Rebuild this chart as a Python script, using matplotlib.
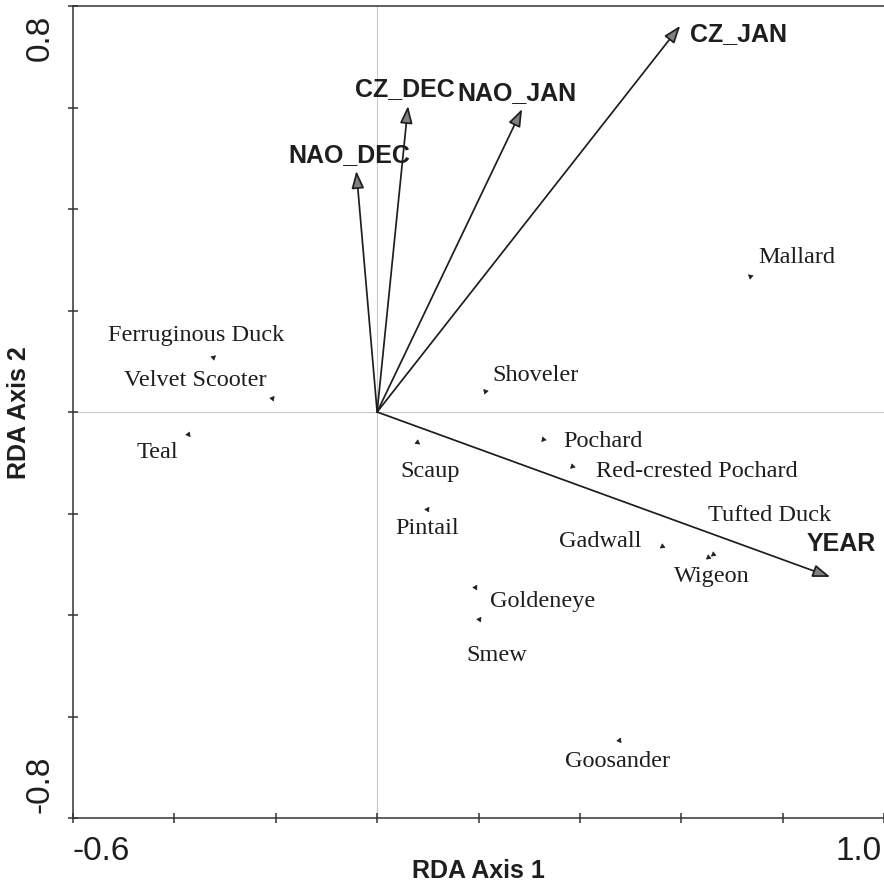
import numpy as np
import matplotlib
matplotlib.use('Agg')
import matplotlib.pyplot as plt
from matplotlib.transforms import ScaledTranslation

# environmental variables (arrow tips)
env_names = ['NAO_DEC', 'CZ_DEC', 'NAO_JAN', 'CZ_JAN', 'YEAR']
env_x = [-0.041, 0.061, 0.286, 0.598, 0.894]
env_y = [0.475, 0.603, 0.597, 0.761, -0.325]

# species scores
sp_names = ['Mallard', 'Ferruginous Duck', 'Velvet Scooter', 'Teal', 'Shoveler',
            'Pochard', 'Red-crested Pochard', 'Scaup', 'Pintail', 'Tufted Duck',
            'Gadwall', 'Wigeon', 'Goldeneye', 'Smew', 'Goosander']
sp_x = [0.736, -0.323, -0.207, -0.373, 0.213, 0.327, 0.385, 0.079, 0.099,
        0.663, 0.562, 0.653, 0.193, 0.201, 0.477]
sp_y = [0.268, 0.108, 0.028, -0.043, 0.041, -0.053, -0.106, -0.059, -0.191,
        -0.280, -0.264, -0.286, -0.345, -0.408, -0.646]

# label offsets in pixels
env_off = {'NAO_DEC': (-7, 17), 'CZ_DEC': (-3, 18), 'NAO_JAN': (-5, 17),
           'CZ_JAN': (58, -7), 'YEAR': (11, 34)}
sp_off = {'Mallard': (47, 19), 'Ferruginous Duck': (-17, 23),
          'Velvet Scooter': (-77, 18), 'Teal': (-31, -18), 'Shoveler': (50, 17),
          'Pochard': (60, -2), 'Red-crested Pochard': (125, -5),
          'Scaup': (13, -29), 'Pintail': (0, -19), 'Tufted Duck': (56, 40),
          'Gadwall': (-62, 5), 'Wigeon': (4, -18), 'Goldeneye': (68, -13),
          'Smew': (18, -35), 'Goosander': (-1, -21)}

ink = '#1e1e1e'
sans = ['Liberation Sans', 'DejaVu Sans']
serif = ['Liberation Serif', 'DejaVu Serif']

fig = plt.figure(figsize=(8.84, 8.87), dpi=100)
ax = fig.add_axes([73 / 884, 1 - 819 / 887, 1 - 73 / 884, (819 - 7) / 887])
ax.set_xlim(-0.6, 1.0)
ax.set_ylim(-0.8, 0.8)

ax.axhline(0, color='#c8c8c8', lw=0.8, zorder=0)
ax.axvline(0, color='#c8c8c8', lw=0.8, zorder=0)

for n, x, y in zip(env_names, env_x, env_y):
    ax.annotate('', xy=(x, y), xytext=(0, 0),
                arrowprops=dict(arrowstyle='-|>,head_length=1.05,head_width=0.38',
                                mutation_scale=10, lw=1.25, fc='#808080', ec=ink,
                                shrinkA=0, shrinkB=0))
    ax.annotate(n, xy=(x, y), xytext=env_off[n], textcoords='offset pixels',
                ha='center', va='center', fontsize=18, fontweight='bold',
                family=sans, color=ink)

for n, x, y in zip(sp_names, sp_x, sp_y):
    ang = np.degrees(np.arctan2(y, x)) - 90
    ax.plot(x, y, marker=(3, 0, ang), ms=4, color=ink, mew=0.4, ls='none')
    ax.annotate(n, xy=(x, y), xytext=sp_off[n], textcoords='offset pixels',
                ha='center', va='center', fontsize=17.5, family=serif, color=ink)

for s in ['left', 'bottom', 'top']:
    ax.spines[s].set_color('#333333')
    ax.spines[s].set_linewidth(1.1)
ax.spines['right'].set_visible(False)

xt = np.round(np.arange(-0.6, 1.01, 0.2), 1)
yt = np.round(np.arange(-0.8, 0.81, 0.2), 1)
ax.set_xticks(xt)
ax.set_yticks(yt)
ax.set_xticklabels(['-0.6'] + [''] * (len(xt) - 2) + ['1.0'], family=sans, fontsize=24)
ax.set_yticklabels(['-0.8'] + [''] * (len(yt) - 2) + ['0.8'], family=sans, fontsize=24,
                   rotation=90, va='center')
ax.tick_params(direction='inout', length=7, width=1.1, color='#333333',
               labelcolor=ink, pad=9)
xl = ax.get_xticklabels()
xl[0].set_ha('left')
xl[-1].set_ha('right')
xl[-1].set_transform(xl[-1].get_transform() + ScaledTranslation(-0.02, 0, fig.dpi_scale_trans))
yl = ax.get_yticklabels()
yl[0].set_va('bottom')
yl[-1].set_va('top')
yl[0].set_transform(yl[0].get_transform() + ScaledTranslation(0, 0.06, fig.dpi_scale_trans))
yl[-1].set_transform(yl[-1].get_transform() + ScaledTranslation(0, -0.08, fig.dpi_scale_trans))

fig.text(478.5 / 884, 1 - 871 / 887, 'RDA Axis 1', ha='center', va='center',
         fontsize=18, fontweight='bold', family=sans, color=ink)
fig.text(19 / 884, 1 - 413 / 887, 'RDA Axis 2', ha='center', va='center',
         rotation=90, fontsize=18, fontweight='bold', family=sans, color=ink)

fig.savefig('out.png', dpi=100)
